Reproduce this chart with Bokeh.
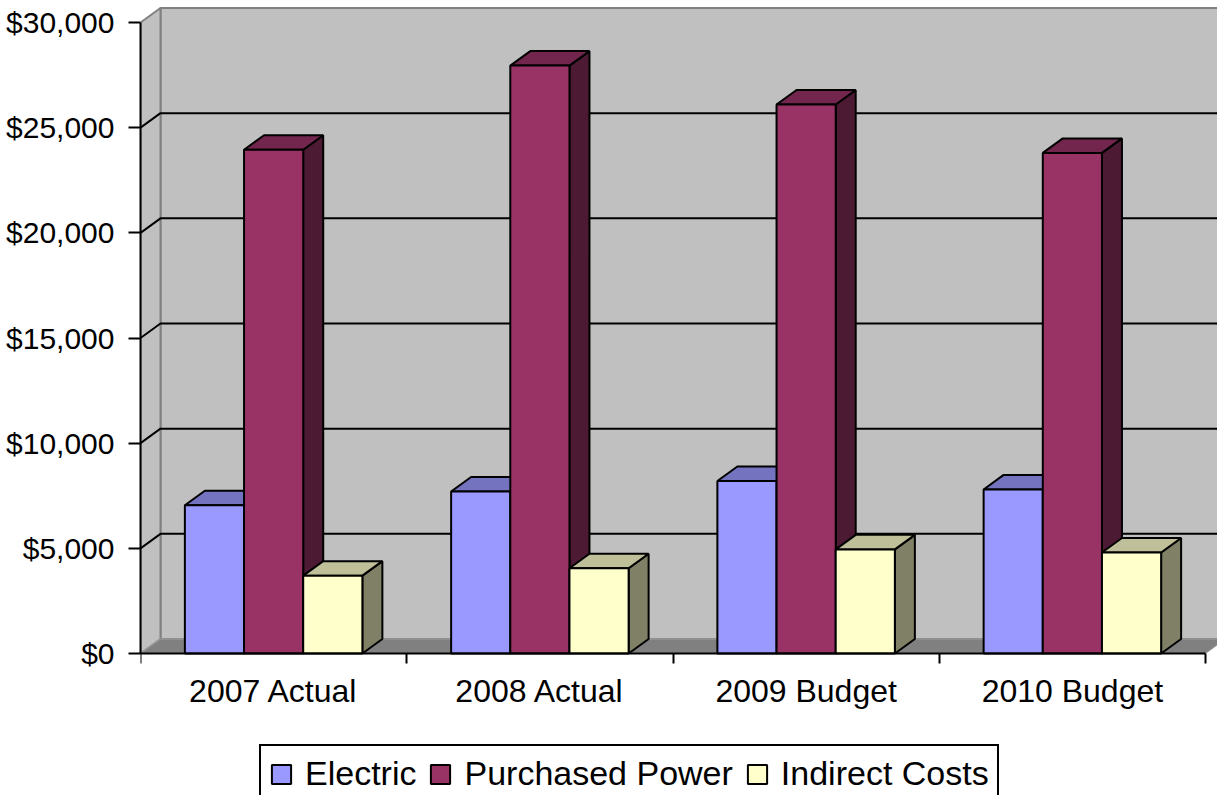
from bokeh.plotting import figure
from bokeh.models import (ColumnDataSource, FixedTicker, NumeralTickFormatter,
                          Range1d, Legend, LegendItem)
from bokeh.embed import file_html
from bokeh.resources import INLINE

# ---- data -------------------------------------------------------------
categories = ["2007 Actual", "2008 Actual", "2009 Budget", "2010 Budget"]
electric = [7050, 7700, 8200, 7800]
purchased_power = [23950, 27950, 26100, 23800]
indirect_costs = [3700, 4050, 4950, 4800]

series_names = ["Electric", "Purchased Power", "Indirect Costs"]
y_ticks = [0, 5000, 10000, 15000, 20000, 25000, 30000]
y_max = 30000

# front / top / side shading for each series
front_colors = ["#9999FF", "#993366", "#FFFFCC"]
top_colors = ["#7373BF", "#73264D", "#BFBF99"]
side_colors = ["#4D4D80", "#4D1A33", "#808066"]

# ---- geometry (data units) --------------------------------------------
n_cat = len(categories)
bar_w = 1 / 4.5          # three bars plus a 150% gap per category
gap_off = 0.75 * bar_w
DX = 0.0751              # depth offset along the category axis
DY = 690                 # depth offset along the value axis

W, H = 1217, 795
LEFT, TOP = 140, 4
BASE_Y = 653             # pixel row of the value-axis origin
px_per_cat = 1065 / n_cat
px_per_dollar = 631 / y_max
frame_w = W - LEFT

p = figure(width=W, height=H, output_backend="svg", toolbar_location=None,
           x_range=Range1d(0, frame_w / px_per_cat),
           y_range=Range1d(-(H - BASE_Y) / px_per_dollar,
                           (BASE_Y - TOP) / px_per_dollar),
           min_border_left=LEFT, min_border_right=0,
           min_border_top=TOP, min_border_bottom=0)
p.xgrid.visible = False
p.ygrid.visible = False
p.outline_line_color = None
p.background_fill_color = "white"
p.border_fill_color = "white"

# ---- walls and floor --------------------------------------------------
x_back_end = n_cat + DX
p.patch([DX, x_back_end, x_back_end, DX],
        [DY, DY, y_max + DY, y_max + DY],
        fill_color="#C0C0C0", line_color="#808080", line_width=2)
p.patch([0, DX, DX, 0], [0, DY, y_max + DY, y_max],
        fill_color="#C0C0C0", line_color="#808080", line_width=2)
p.patch([0, n_cat, x_back_end, DX], [0, 0, DY, DY],
        fill_color="#808080", line_color="#A0A0A0", line_width=1)

# gridlines: diagonal across the side wall, then across the back wall
grid_vals = [v for v in y_ticks if 0 < v < y_max]
p.multi_line(xs=[[0, DX, x_back_end] for _ in grid_vals],
             ys=[[v, v + DY, v + DY] for v in grid_vals],
             line_color="black", line_width=2)

# ---- bars ---------------------------------------------------------------
fronts = []
for s, vals in enumerate([electric, purchased_power, indirect_costs]):
    lefts = [i + gap_off + s * bar_w for i in range(n_cat)]
    rights = [x + bar_w for x in lefts]
    side = ColumnDataSource(dict(
        xs=[[r, r + DX, r + DX, r] for r in rights],
        ys=[[0, DY, v + DY, v] for v in vals]))
    top = ColumnDataSource(dict(
        xs=[[l, r, r + DX, l + DX] for l, r in zip(lefts, rights)],
        ys=[[v, v, v + DY, v + DY] for v in vals]))
    front = ColumnDataSource(dict(left=lefts, right=rights, top=vals,
                                  bottom=[0] * n_cat))
    p.patches("xs", "ys", source=side, fill_color=side_colors[s],
              line_color="black", line_width=2)
    p.patches("xs", "ys", source=top, fill_color=top_colors[s],
              line_color="black", line_width=2)
    r = p.quad(left="left", right="right", top="top", bottom="bottom",
               source=front, fill_color=front_colors[s],
               line_color="black", line_width=2)
    fronts.append(r)

# ---- axes ---------------------------------------------------------------
FONT = "Liberation Sans"

yax = p.yaxis[0]
yax.ticker = FixedTicker(ticks=y_ticks, minor_ticks=[])
yax.formatter = NumeralTickFormatter(format="$0,0")
yax.bounds = (0, y_max)
yax.axis_line_width = 2
yax.axis_line_color = "black"
yax.major_tick_line_width = 2
yax.major_tick_out = 12
yax.major_tick_in = 0
yax.major_label_standoff = 14
yax.major_label_text_font = FONT
yax.major_label_text_font_size = "30px"
yax.major_label_text_color = "black"

# category axis sits on the value-axis origin
xax = p.xaxis[0]
xax.fixed_location = 0
centers = [i + 0.5 for i in range(n_cat)]
xax.ticker = FixedTicker(ticks=centers, minor_ticks=list(range(n_cat + 1)))
xax.major_label_overrides = {c: lab for c, lab in zip(centers, categories)}
xax.bounds = (0, n_cat)
xax.axis_line_width = 2
xax.axis_line_color = "black"
xax.major_tick_out = 0
xax.major_tick_in = 0
xax.minor_tick_out = 10
xax.minor_tick_in = 0
xax.minor_tick_line_width = 2
xax.minor_tick_line_color = "black"
xax.major_label_standoff = 9
xax.major_label_text_font = FONT
xax.major_label_text_font_size = "32px"
xax.major_label_text_color = "black"

# ---- legend -------------------------------------------------------------
legend = Legend(
    items=[LegendItem(label=n, renderers=[r]) for n, r in zip(series_names, fronts)],
    orientation="horizontal", location=(119, -8),
    border_line_color="black", border_line_width=2, border_line_alpha=1,
    background_fill_color="white", background_fill_alpha=1,
    padding=8, spacing=12, margin=0,
    glyph_width=24, glyph_height=24, label_standoff=12,
    label_text_font=FONT, label_text_font_size="34px",
    label_text_color="black")
p.add_layout(legend)

open("out.html", "w").write(file_html(p, INLINE))
